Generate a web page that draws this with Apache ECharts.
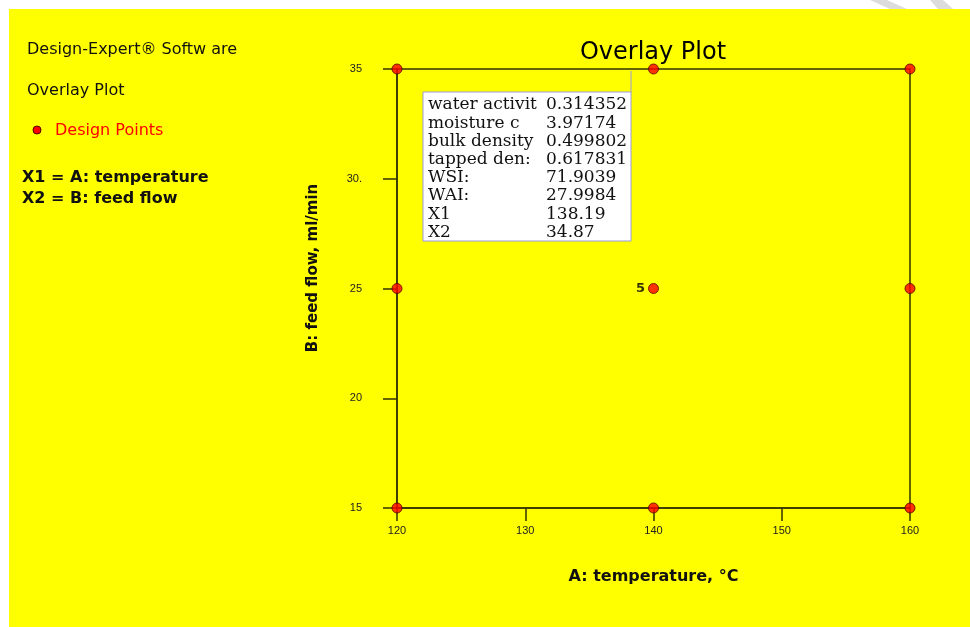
<!DOCTYPE html>
<html>
<head>
<meta charset="utf-8">
<script src="https://cdn.jsdelivr.net/npm/echarts@6/dist/echarts.min.js"></script>
<style>
html,body{margin:0;padding:0;background:#fff;}
#chart{width:970px;height:627px;}
</style>
</head>
<body>
<div id="chart"></div>
<script>
// ---- data ----
const temperature = [120, 120, 120, 140, 140, 140, 160, 160, 160];
const feedFlow    = [15, 25, 35, 15, 25, 35, 15, 25, 35];
const pointLabels = ['', '', '', '', '5', '', '', '', ''];
const xTicks = [120, 130, 140, 150, 160];
const yTicks = [15, 20, 25, 30, 35];
const yTickLabels = ['15', '20', '25', '30.', '35'];
const boxNames  = ['water activit', 'moisture c', 'bulk density', 'tapped den:', 'WSI:', 'WAI:', 'X1', 'X2'];
const boxValues = ['0.314352', '3.97174', '0.499802', '0.617831', '71.9039', '27.9984', '138.19', '34.87'];
const infoLines = ['Design-Expert® Softw are', 'Overlay Plot'];
const factorLines = ['X1 = A: temperature', 'X2 = B: feed flow'];
const xName = 'A: temperature, °C';
const yName = 'B: feed flow, ml/min';

const chart = echarts.init(document.getElementById('chart'));

const points = temperature.map((t, i) => {
  const item = { value: [t, feedFlow[i]] };
  if (pointLabels[i]) {
    item.label = { show: true, formatter: pointLabels[i] };
  }
  return item;
});

const graphics = [
  { type: 'rect', z: -10, silent: true, shape: { x: 9, y: 9, width: 961, height: 618 }, style: { fill: '#ffff00' } },
  { type: 'polygon', z: -9, silent: true, shape: { points: [[870,0],[887,0],[907,9],[890,9]] }, style: { fill: '#dcdcdc' } },
  { type: 'polygon', z: -9, silent: true, shape: { points: [[930,0],[943,0],[953,9],[938,9]] }, style: { fill: '#dcdcdc' } },
  { type: 'text', style: { text: 'Overlay Plot', x: 653, y: 53, align: 'center', verticalAlign: 'middle', font: '24px "DejaVu Sans"', fill: '#000' } },
  { type: 'text', style: { text: infoLines[0], x: 27, y: 50, verticalAlign: 'middle', font: '16px "DejaVu Sans"', fill: '#111' } },
  { type: 'text', style: { text: infoLines[1], x: 27, y: 91, verticalAlign: 'middle', font: '16px "DejaVu Sans"', fill: '#111' } },
  { type: 'circle', shape: { cx: 37, cy: 130, r: 4 }, style: { fill: '#ff0000', stroke: '#550000', lineWidth: 1 } },
  { type: 'text', style: { text: 'Design Points', x: 55, y: 131, verticalAlign: 'middle', font: '16px "DejaVu Sans"', fill: '#ff0000' } },
  { type: 'text', style: { text: factorLines[0], x: 22, y: 178, verticalAlign: 'middle', font: 'bold 16px "DejaVu Sans"', fill: '#111' } },
  { type: 'text', style: { text: factorLines[1], x: 22, y: 199, verticalAlign: 'middle', font: 'bold 16px "DejaVu Sans"', fill: '#111' } },
  { type: 'text', x: 313, y: 268, rotation: Math.PI / 2, style: { text: yName, x: 0, y: 0, align: 'center', verticalAlign: 'middle', font: 'bold 15px "DejaVu Sans"', fill: '#111' } },
  { type: 'line', shape: { x1: 631, y1: 71, x2: 631, y2: 92 }, style: { stroke: '#9a9ae0', lineWidth: 1 } },
  { type: 'rect', shape: { x: 423, y: 92, width: 208, height: 149 }, style: { fill: '#ffffff', stroke: '#9a9ae0', lineWidth: 1 } }
];
boxNames.forEach((n, i) => {
  const y = 105 + i * 18.2;
  graphics.push({ type: 'text', style: { text: n, x: 428, y: y, verticalAlign: 'middle', font: '17px "DejaVu Serif"', fill: '#111', width: 117, overflow: 'truncate', ellipsis: '' } });
  graphics.push({ type: 'text', style: { text: boxValues[i], x: 546, y: y, verticalAlign: 'middle', font: '17px "DejaVu Serif"', fill: '#111', width: 84, overflow: 'truncate', ellipsis: '' } });
});

const option = {
  backgroundColor: '#ffffff',
  animation: false,
  grid: { left: 397, right: 60, top: 69, bottom: 119, show: true, borderColor: '#333300', borderWidth: 1.5, backgroundColor: 'transparent' },
  xAxis: {
    type: 'value', min: 120, max: 160, interval: 10,
    name: xName, nameLocation: 'middle', nameGap: 61,
    nameTextStyle: { fontFamily: 'DejaVu Sans', fontWeight: 'bold', fontSize: 16, color: '#111' },
    axisLine: { show: true, lineStyle: { color: '#333300', width: 1.5 } },
    axisTick: { show: true, length: 13, lineStyle: { color: '#333300', width: 1.5 }, customValues: xTicks },
    axisLabel: { margin: 17, fontFamily: 'Liberation Sans', fontSize: 11, color: '#222', customValues: xTicks },
    splitLine: { show: false }
  },
  yAxis: {
    type: 'value', min: 15, max: 35, interval: 5,
    axisLine: { show: true, lineStyle: { color: '#333300', width: 1.5 } },
    axisTick: { show: true, length: 14, lineStyle: { color: '#333300', width: 1.5 } },
    axisLabel: { margin: 35, fontFamily: 'Liberation Sans', fontSize: 11, color: '#222',
      formatter: v => { const k = yTicks.indexOf(v); return k >= 0 ? yTickLabels[k] : ''; } },
    splitLine: { show: false }
  },
  graphic: graphics,
  series: [{
    type: 'scatter',
    clip: false,
    symbol: 'circle',
    symbolSize: 10,
    itemStyle: { color: '#ff0000', borderColor: '#550000', borderWidth: 1 },
    label: { show: false, position: 'left', distance: 3, fontFamily: 'DejaVu Sans', fontWeight: 'bold', fontSize: 13, color: '#000' },
    data: points
  }]
};
chart.setOption(option);
</script>
</body>
</html>
